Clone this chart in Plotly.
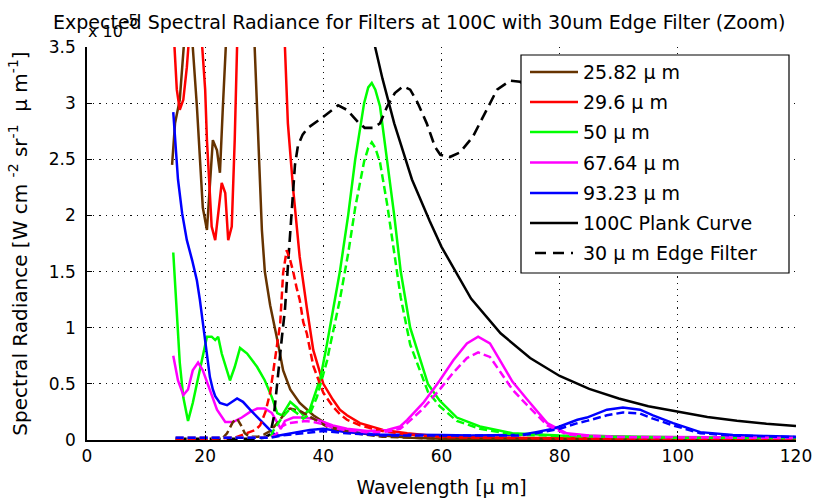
import plotly.graph_objects as go

# ---------------- data (values in units of 1e-5) ----------------
brown_x = [14.4, 14.9, 15.7, 16.3, 16.8, 17.4, 17.9, 18.6, 19.1, 19.6, 20.3, 20.8, 21.3, 22.0, 22.5, 23.0, 23.5,
           25.8, 28.0, 28.4, 29.0, 29.6, 30.1, 31.0, 32.1, 33.2, 34.4, 36.0, 38.3, 40.6, 44.0, 47.0, 50.0, 55.0,
           60.0, 70.0, 80.0, 100.0, 120.0]
brown_y = [2.45, 2.82, 3.03, 3.38, 3.8, 3.8, 3.5, 2.97, 2.52, 2.07, 1.87, 2.23, 2.67, 2.58, 2.38, 2.97, 3.8,
           6.0, 4.0, 3.5, 2.7, 1.87, 1.5, 1.2, 0.92, 0.62, 0.45, 0.33, 0.22, 0.14, 0.08, 0.055, 0.04, 0.02,
           0.012, 0.006, 0.004, 0.003, 0.003]
brown_dx = [15.0, 20.0, 23.0, 23.7, 24.7, 25.4, 26.2, 26.7, 27.5, 29.0, 30.0, 31.0, 32.2, 33.2, 34.0, 34.4, 36.0,
            38.3, 40.6, 44.0, 50.0, 60.0, 120.0]
brown_dy = [0.01, 0.01, 0.02, 0.06, 0.16, 0.19, 0.12, 0.06, 0.03, 0.03, 0.05, 0.08, 0.15, 0.22, 0.27, 0.28, 0.26,
            0.19, 0.12, 0.07, 0.03, 0.01, 0.003]

red_x = [14.5, 14.8, 15.2, 15.7, 16.3, 16.9, 17.3, 18.0, 19.0, 19.5, 20.0, 20.3, 20.7, 21.1, 21.7, 22.2, 22.8,
         23.4, 23.9, 24.5, 25.0, 25.4, 26.0, 30.0, 33.0, 33.5, 34.0, 34.9, 36.0, 37.2, 38.3, 40.0, 41.6, 42.8,
         44.0, 46.2, 50.1, 54.2, 60.0, 70.0, 80.0, 100.0, 120.0]
red_y = [3.8, 3.5, 3.12, 2.94, 3.03, 3.32, 3.6, 4.5, 4.0, 3.5, 3.12, 2.67, 2.23, 1.9, 1.78, 1.99, 2.29,
         2.2, 1.78, 1.9, 2.67, 3.5, 5.0, 8.0, 4.5, 3.5, 2.82, 2.23, 1.63, 1.18, 0.8, 0.5, 0.36, 0.27,
         0.22, 0.15, 0.09, 0.06, 0.03, 0.02, 0.015, 0.01, 0.008]
red_dx = [15.0, 20.0, 25.0, 27.1, 28.5, 29.3, 30.2, 31.0, 31.8, 32.7, 33.2, 33.8, 34.4, 34.9, 35.5, 36.0, 36.6,
          37.2, 38.3, 40.0, 41.6, 42.8, 44.0, 46.2, 50.0, 54.2, 60.0, 80.0, 120.0]
red_dy = [0.01, 0.01, 0.02, 0.06, 0.09, 0.13, 0.25, 0.42, 0.7, 1.04, 1.49, 1.69, 1.6, 1.5, 1.35, 1.25, 1.05,
          0.95, 0.66, 0.42, 0.3, 0.23, 0.18, 0.13, 0.08, 0.05, 0.025, 0.012, 0.007]

green_x = [14.6, 15.2, 15.7, 16.3, 17.1, 17.9, 19.1, 20.3, 21.1, 21.7, 22.2, 22.8, 24.2, 25.0, 25.9, 27.1, 28.8,
           30.1, 31.3, 32.2, 33.0, 34.4, 35.5, 36.6, 37.7, 38.9, 39.5, 40.6, 41.1, 42.0, 42.8, 44.2, 45.4, 46.9,
           47.6, 48.2, 48.8, 49.6, 50.8, 52.0, 53.1, 54.7, 55.9, 57.7, 59.7, 62.6, 66.5, 72.0, 80.0, 90.0, 100.0,
           110.0, 120.0]
green_y = [1.67, 1.07, 0.69, 0.38, 0.17, 0.33, 0.62, 0.92, 0.92, 0.89, 0.92, 0.77, 0.53, 0.65, 0.82, 0.77, 0.65,
           0.53, 0.38, 0.24, 0.22, 0.34, 0.29, 0.22, 0.27, 0.45, 0.55, 0.85, 1.0, 1.25, 1.5, 2.0, 2.5, 3.0,
           3.14, 3.18, 3.12, 2.97, 2.5, 2.0, 1.5, 1.0, 0.8, 0.5, 0.35, 0.2, 0.12, 0.06, 0.04, 0.03, 0.025,
           0.02, 0.02]
green_dx = [15.0, 20.0, 25.0, 31.0, 31.5, 32.2, 33.0, 34.4, 35.5, 36.6, 37.7, 38.9, 40.6, 41.1, 42.0, 42.8, 44.2,
            45.4, 46.2, 46.9, 47.6, 48.2, 48.8, 49.6, 50.8, 52.0, 53.1, 54.7, 55.9, 57.7, 59.7, 62.6, 66.5, 72.0,
            80.0, 90.0, 100.0, 120.0]
green_dy = [0.02, 0.02, 0.02, 0.02, 0.08, 0.14, 0.2, 0.28, 0.24, 0.19, 0.23, 0.38, 0.7, 0.83, 1.04, 1.25, 1.66,
            2.07, 2.29, 2.48, 2.6, 2.65, 2.6, 2.47, 2.1, 1.68, 1.27, 0.85, 0.68, 0.43, 0.3, 0.17, 0.1, 0.05,
            0.035, 0.025, 0.02, 0.018]

mag_x = [14.6, 15.4, 16.3, 17.1, 17.9, 18.8, 19.6, 20.8, 22.0, 23.4, 24.7, 26.2, 27.6, 28.8, 30.1, 31.3, 32.2,
         32.8, 33.5, 34.9, 36.5, 38.3, 40.0, 41.6, 44.0, 47.4, 50.8, 53.0, 54.2, 56.9, 58.6, 59.7, 62.0, 64.3,
         66.2, 68.2, 69.9, 72.0, 74.5, 77.9, 81.2, 85.0, 90.0, 100.0, 110.0, 120.0]
mag_y = [0.75, 0.53, 0.4, 0.45, 0.62, 0.69, 0.62, 0.45, 0.27, 0.16, 0.16, 0.2, 0.25, 0.28, 0.28, 0.24, 0.15,
         0.1, 0.17, 0.2, 0.2, 0.19, 0.16, 0.13, 0.1, 0.08, 0.09, 0.12, 0.18, 0.33, 0.45, 0.53, 0.71, 0.86,
         0.92, 0.86, 0.71, 0.52, 0.36, 0.15, 0.06, 0.04, 0.03, 0.025, 0.02, 0.02]
mag_dx = [15.0, 20.0, 25.0, 31.0, 32.0, 33.0, 34.0, 35.5, 37.0, 38.3, 40.0, 41.6, 44.0, 47.4, 50.8, 53.0, 54.2,
          56.9, 58.6, 59.7, 62.0, 64.3, 66.2, 68.2, 69.9, 72.0, 74.5, 77.9, 81.2, 85.0, 90.0, 100.0, 120.0]
mag_dy = [0.02, 0.02, 0.02, 0.02, 0.05, 0.12, 0.15, 0.16, 0.17, 0.16, 0.14, 0.11, 0.085, 0.068, 0.075, 0.1, 0.15,
          0.28, 0.38, 0.45, 0.6, 0.73, 0.78, 0.74, 0.61, 0.45, 0.31, 0.13, 0.05, 0.035, 0.026, 0.022, 0.018]

blue_x = [14.6, 14.9, 15.4, 16.1, 16.9, 17.8, 18.6, 19.1, 19.6, 20.0, 20.4, 20.8, 21.3, 21.7, 22.5, 23.7, 25.4,
          26.4, 27.6, 29.3, 31.0, 31.8, 32.5, 34.4, 37.7, 40.0, 44.0, 49.6, 55.0, 60.0, 65.0, 70.0, 73.3, 76.0,
          78.9, 80.0, 83.0, 84.6, 88.0, 90.7, 93.6, 95.8, 99.2, 103.8, 109.3, 115.0, 120.0]
blue_y = [2.92, 2.67, 2.32, 2.02, 1.78, 1.6, 1.42, 1.25, 1.05, 0.88, 0.7, 0.56, 0.45, 0.39, 0.33, 0.31, 0.37,
          0.34, 0.27, 0.18, 0.09, 0.045, 0.04, 0.06, 0.09, 0.1, 0.07, 0.05, 0.05, 0.045, 0.04, 0.04, 0.045, 0.07,
          0.1, 0.12, 0.18, 0.2, 0.27, 0.29, 0.27, 0.22, 0.15, 0.07, 0.045, 0.035, 0.03]
blue_dx = [15.0, 20.0, 25.0, 31.0, 33.0, 35.0, 37.7, 40.0, 44.0, 50.0, 60.0, 70.0, 73.3, 76.0, 78.9, 80.0, 83.0,
           84.6, 88.0, 90.7, 93.6, 95.8, 99.2, 103.8, 109.3, 120.0]
blue_dy = [0.02, 0.02, 0.02, 0.02, 0.04, 0.05, 0.07, 0.08, 0.06, 0.04, 0.04, 0.035, 0.04, 0.06, 0.085, 0.1, 0.15,
           0.17, 0.22, 0.245, 0.235, 0.19, 0.13, 0.06, 0.04, 0.025]

planck_x = [47.0, 48.7, 50.0, 52.0, 55.0, 58.0, 60.0, 65.0, 70.0, 75.0, 80.0, 85.0, 90.0, 95.0, 100.0, 105.0,
            110.0, 115.0, 120.0]
planck_y = [3.9, 3.5, 3.22, 2.82, 2.32, 1.95, 1.72, 1.26, 0.95, 0.73, 0.57, 0.455, 0.37, 0.3, 0.25, 0.205,
            0.172, 0.145, 0.125]

edge_x = [15.0, 20.0, 25.0, 28.0, 30.0, 31.0, 31.6, 32.3, 33.0, 33.5, 34.0, 34.4, 34.8, 35.2, 35.7, 36.5, 37.4,
          39.8, 42.5, 44.0, 45.9, 47.0, 48.4, 49.6, 50.8, 52.1, 53.5, 54.7, 55.9, 57.5, 58.9, 59.8, 61.4, 63.1,
          65.3, 67.7, 69.4, 71.6, 73.3, 76.0, 80.0, 85.0, 90.0, 95.0, 100.0, 105.0, 110.0, 115.0, 118.0]
edge_y = [0.01, 0.01, 0.01, 0.01, 0.02, 0.05, 0.2, 0.53, 0.92, 1.16, 1.6, 1.85, 2.15, 2.45, 2.62, 2.72, 2.78,
          2.87, 2.98, 2.94, 2.83, 2.78, 2.78, 2.82, 2.97, 3.09, 3.15, 3.12, 3.01, 2.82, 2.61, 2.54, 2.52, 2.56,
          2.70, 2.94, 3.12, 3.2, 3.19, 3.1, 2.95, 3.05, 2.9, 3.05, 2.95, 3.0, 3.1, 2.95, 3.0]

labels = ["25.82 μ m", "29.6 μ m", "50 μ m", "67.64 μ m", "93.23 μ m", "100C Plank Curve", "30 μ m Edge Filter"]
colors = ["#663300", "#ff0000", "#00ff00", "#ff00ff", "#0000ff", "#000000", "#000000"]

x_ticks = [0, 20, 40, 60, 80, 100, 120]
y_ticks = [0, 0.5, 1, 1.5, 2, 2.5, 3, 3.5]

# ---------------- figure ----------------
LW = 2.5
fig = go.Figure()
solids = [(brown_x, brown_y), (red_x, red_y), (green_x, green_y), (mag_x, mag_y), (blue_x, blue_y)]
dashes = [(brown_dx, brown_dy), (red_dx, red_dy), (green_dx, green_dy), (mag_dx, mag_dy), (blue_dx, blue_dy)]

for i, (xs, ys) in enumerate(solids):
    fig.add_trace(go.Scatter(x=xs, y=ys, mode="lines", name=labels[i], line=dict(color=colors[i], width=LW)))
fig.add_trace(go.Scatter(x=planck_x, y=planck_y, mode="lines", name=labels[5], line=dict(color="black", width=LW)))
fig.add_trace(go.Scatter(x=edge_x, y=edge_y, mode="lines", name=labels[6],
                         line=dict(color="black", width=2.6, dash="11px,6px")))
for i, (xs, ys) in enumerate(dashes):
    fig.add_trace(go.Scatter(x=xs, y=ys, mode="lines", name=labels[i] + " (edge)",
                             line=dict(color=colors[i], width=LW, dash="8px,4px")))

FONT = "DejaVu Sans, Verdana, sans-serif"
fig.update_layout(
    width=814, height=500,
    margin=dict(l=87, r=18, t=47, b=60),
    paper_bgcolor="white", plot_bgcolor="white",
    font=dict(family=FONT, size=17, color="black"),
    title=dict(text="Expected Spectral Radiance for Filters at 100C with 30um Edge Filter (Zoom)",
               x=0.515, xanchor="center", y=0.955, yanchor="middle", yref="container",
               font=dict(family=FONT, size=19, color="black")),
    showlegend=False,
)
fig.update_xaxes(range=[0, 120], tickvals=x_ticks, ticks="inside", ticklen=5, tickcolor="black",
                 showline=True, linecolor="black", linewidth=1.5, mirror=False, zeroline=False,
                 showgrid=True, gridcolor="#111", griddash="1.2px,5px", gridwidth=1.2, automargin=False,
                 tickfont=dict(family=FONT, size=17),
                 title=dict(text="Wavelength [μ m]", standoff=16, font=dict(family=FONT, size=19)))
fig.update_yaxes(range=[0, 3.5], tickvals=y_ticks, ticktext=["0", "0.5", "1", "1.5", "2", "2.5", "3", "3.5"],
                 ticks="inside", ticklen=5, tickcolor="black", ticklabelstandoff=6,
                 showline=True, linecolor="black", linewidth=1.5, mirror=False, zeroline=False,
                 showgrid=True, gridcolor="#111", griddash="1.2px,5px", gridwidth=1.2, automargin=False,
                 tickfont=dict(family=FONT, size=17),
                 title=dict(text="Spectral Radiance [W cm <sup>-2</sup> sr<sup>-1</sup>  μ m<sup>-1</sup>]",
                            standoff=16, font=dict(family=FONT, size=20)))


def px(xp):
    return (xp - 87) / 709.0


def py(yp):
    return (440 - yp) / 393.0


# exponent label (x 10^-5)
fig.add_annotation(text="x 10", xref="paper", yref="paper", x=px(86), y=py(43),
                   xanchor="left", yanchor="bottom", showarrow=False,
                   font=dict(family=FONT, size=16, color="black"))
fig.add_annotation(text="-5", xref="paper", yref="paper", x=px(121), y=py(32),
                   xanchor="left", yanchor="bottom", showarrow=False,
                   font=dict(family=FONT, size=15, color="black"))

# ---------------- legend box (drawn as shapes + text) ----------------
fig.add_shape(type="rect", xref="paper", yref="paper", x0=px(521), x1=px(789), y0=py(273), y1=py(55),
              line=dict(color="black", width=1.2), fillcolor="white", layer="above")
row_y = [72, 102, 132, 162.5, 193, 223, 253]
for i in range(7):
    dash = "11px,7px" if i == 6 else "solid"
    x0 = 535 if i == 6 else 530
    x1 = 573 if i == 6 else 578
    fig.add_shape(type="line", xref="paper", yref="paper", x0=px(x0), x1=px(x1), y0=py(row_y[i]), y1=py(row_y[i]),
                  line=dict(color=colors[i], width=2.6, dash=dash), layer="above")
    fig.add_annotation(text=labels[i], xref="paper", yref="paper", x=px(581), y=py(row_y[i]),
                       xanchor="left", yanchor="middle", showarrow=False,
                       font=dict(family=FONT, size=19, color="black"))

fig.write_html("out.html")
